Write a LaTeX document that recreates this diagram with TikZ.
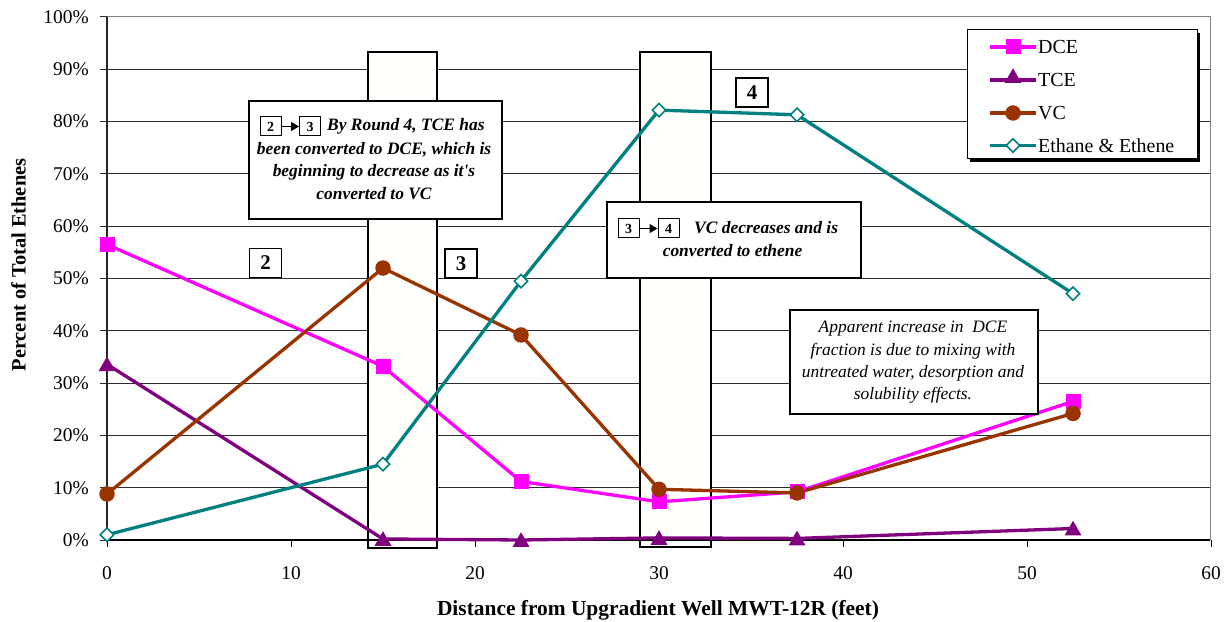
\documentclass[tikz,border=0pt]{standalone}
\usepackage{fontspec}
\setmainfont{Liberation Serif}
\usetikzlibrary{arrows.meta,shapes.geometric}
\definecolor{dcec}{RGB}{255,0,255}
\definecolor{tcec}{RGB}{128,0,128}
\definecolor{vcc}{RGB}{153,51,0}
\definecolor{ethc}{RGB}{0,128,128}
\definecolor{gridc}{RGB}{45,45,45}
\definecolor{framec}{RGB}{128,128,128}
\definecolor{shadec}{RGB}{255,255,251}
\begin{document}
\begin{tikzpicture}[x=1bp,y=-1bp,
  ticklab/.style={font=\fontsize{19.5}{22}\selectfont, inner sep=0pt},
  axtitle/.style={font=\fontsize{21.5}{24}\selectfont\bfseries, inner sep=0pt},
  ytitle/.style={font=\fontsize{20.5}{24}\selectfont\bfseries, inner sep=0pt},
  gridline/.style={draw=gridc, line width=0.9bp},
  shadebox/.style={draw=black, line width=1.1bp, fill=shadec},
  series/.style={line width=3.3bp, line join=round},
  sqm/.style={rectangle, fill=dcec, minimum size=15bp, inner sep=0pt},
  trim/.style={regular polygon, regular polygon sides=3, fill=tcec, minimum size=19.5bp, inner sep=0pt},
  circm/.style={circle, fill=vcc, minimum size=15.5bp, inner sep=0pt},
  diam/.style={diamond, draw=ethc, fill=white, line width=1.6bp, minimum size=14bp, inner sep=0pt},
  annobox/.style={draw=black, line width=1.1bp, fill=white},
  annotxt/.style={font=\fontsize{17.5}{22.3}\selectfont\bfseries\itshape, inner sep=0pt, align=center},
  numbox/.style={draw=black, line width=1.1bp, fill=white, font=\fontsize{21}{24}\selectfont\bfseries, minimum width=32bp, minimum height=29bp, inner sep=0pt},
  smallnum/.style={draw=black, line width=1bp, fill=white, font=\fontsize{14}{16}\selectfont\bfseries, minimum width=21bp, minimum height=19bp, inner sep=0pt},
  legtxt/.style={font=\fontsize{20}{24}\selectfont, inner sep=0pt, anchor=west}
]
\useasboundingbox (0,0) rectangle (1225,622);
\fill[white] (0,0) rectangle (1225,622);

% gridlines and y ticks
\foreach \p in {10,20,...,90} {
  \draw[gridline] (107,{540-5.23*\p}) -- (1210,{540-5.23*\p});
}
\draw[draw=framec, line width=1bp] (107,17) -- (1210,17) -- (1210,540);
\foreach \p in {0,10,...,100} {
  \draw[gridc, line width=1bp] (100,{540-5.23*\p}) -- (107,{540-5.23*\p});
  \node[ticklab, anchor=east] (yl\p) at (89,{540-5.23*\p}) {\p\%};
}
\foreach \d in {0,10,...,60} {
  \draw[black, line width=1bp] ({107+18.4*\d},540) -- ({107+18.4*\d},547);
  \node[ticklab] (xl\d) at ({107+18.4*\d},573) {\d};
}

% shaded round zones
\draw[shadebox] (368,52) rectangle (437,548);
\draw[shadebox] (640,52) rectangle (711,547);

% axes
\draw[draw=gray!30!black, line width=1.6bp] (107,17) -- (107,540);
\draw[black, line width=1.3bp] (107,540) -- (1210,540);

% axis titles
\node[axtitle] (xtitle) at (658,610) {Distance from Upgradient Well MWT-12R (feet)};
\node[ytitle, rotate=90] (ytitle) at (18.5,265) {Percent of Total Ethenes};

% data
\begin{scope}[shift={(107,540)}, x=18.4bp, y=5.23bp]
  \foreach \n/\d/\p in {1/0/56.5, 2/15/33.2, 3/22.5/11.2, 4/30/7.3, 5/37.5/9.2, 6/52.5/26.5}
    \coordinate (dce\n) at (\d,\p);
  \foreach \n/\d/\p in {1/0/33.6, 2/15/0.2, 3/22.5/0.0, 4/30/0.4, 5/37.5/0.3, 6/52.5/2.2}
    \coordinate (tce\n) at (\d,\p);
  \foreach \n/\d/\p in {1/0/8.8, 2/15/52.0, 3/22.5/39.2, 4/30/9.7, 5/37.5/9.0, 6/52.5/24.2}
    \coordinate (vc\n) at (\d,\p);
  \foreach \n/\d/\p in {1/0/1.0, 2/15/14.5, 3/22.5/49.5, 4/30/82.2, 5/37.5/81.3, 6/52.5/47.1}
    \coordinate (eth\n) at (\d,\p);
\end{scope}

\draw[series, dcec] (dce1) -- (dce2) -- (dce3) -- (dce4) -- (dce5) -- (dce6);
\draw[series, tcec] (tce1) -- (tce2) -- (tce3) -- (tce4) -- (tce5) -- (tce6);
\draw[series, vcc] (vc1) -- (vc2) -- (vc3) -- (vc4) -- (vc5) -- (vc6);
\draw[series, ethc] (eth1) -- (eth2) -- (eth3) -- (eth4) -- (eth5) -- (eth6);

\foreach \n in {1,...,6} {
  \node[sqm] (mdce\n) at (dce\n) {};
  \node[trim] (mtce\n) at ([yshift=-2bp]tce\n) {};
}
\foreach \n in {1,...,6} {
  \node[circm] (mvc\n) at (vc\n) {};
  \node[diam] (meth\n) at (eth\n) {};
}

% round number boxes
\node[numbox] (r2) at (265.5,263) {2};
\node[numbox] (r3) at (461,263.5) {3};
\node[numbox] (r4) at (752,92.5) {4};

% annotation 1
\node[annobox, minimum width=253bp, minimum height=118bp] (ann1) at (375.5,160) {};
\node[smallnum] (a2) at (270.5,126.5) {2};
\node[smallnum] (a3) at (310,126.5) {3};
\draw[black, line width=1.1bp, -{Triangle[length=8bp,width=9bp]}] (a2.east) -- (a3.west);
\node[annotxt, anchor=west] (ann1l1) at (327,126.5) {By Round 4, TCE has};
\node[annotxt] (ann1l2) at (374,171) {been converted to DCE, which is\\beginning to decrease as it\textquotesingle s\\converted to VC};

% annotation 2
\node[annobox, minimum width=254bp, minimum height=76bp] (ann2) at (734,240) {};
\node[smallnum] (b3) at (628.5,228.5) {3};
\node[smallnum] (b4) at (668.5,228.5) {4};
\draw[black, line width=1.1bp, -{Triangle[length=8bp,width=9bp]}] (b3.east) -- (b4.west);
\node[annotxt, anchor=west] (ann2l1) at (694,228) {VC decreases and is};
\node[annotxt] (ann2l2) at (732.5,251) {converted to ethene};

% annotation 3
\node[annobox, minimum width=248bp, minimum height=104bp] (ann3) at (914,362) {};
\node[annotxt, font=\fontsize{17.5}{22.4}\selectfont\itshape] (ann3t) at (913,362.5) {Apparent increase in\ \ DCE\\fraction is due to mixing with\\untreated water, desorption and\\solubility effects.};

% legend
\fill[black] (970,33) rectangle (1200,162);
\draw[black, line width=1bp, fill=white] (967,30) rectangle (1197,159);
\coordinate (lg1a) at (990,47); \coordinate (lg1b) at (1036,47);
\coordinate (lg2a) at (990,80); \coordinate (lg2b) at (1036,80);
\coordinate (lg3a) at (990,113); \coordinate (lg3b) at (1036,113);
\coordinate (lg4a) at (990,145.5); \coordinate (lg4b) at (1036,145.5);
\draw[series, dcec] (lg1a) -- (lg1b);
\draw[series, tcec] (lg2a) -- (lg2b);
\draw[series, vcc] (lg3a) -- (lg3b);
\draw[series, ethc] (lg4a) -- (lg4b);
\node[sqm] (lgm1) at (1013,47) {};
\node[trim] (lgm2) at (1013,78) {};
\node[circm] (lgm3) at (1013,113) {};
\node[diam] (lgm4) at (1013,145.5) {};
\node[legtxt] (lgt1) at (1038,47) {DCE};
\node[legtxt] (lgt2) at (1038,80) {TCE};
\node[legtxt] (lgt3) at (1038,113) {VC};
\node[legtxt] (lgt4) at (1038,145.5) {Ethane \& Ethene};
\end{tikzpicture}
\end{document}
